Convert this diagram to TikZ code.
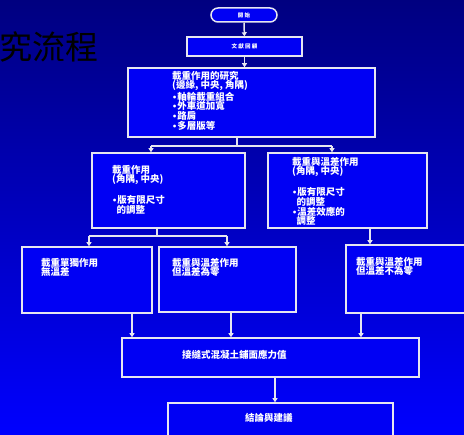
\documentclass[tikz,border=0pt]{standalone}
\usepackage{fontspec}
\newfontfamily\cjk{Noto Sans CJK TC}
\newfontfamily\dv{DejaVu Sans}
\newcommand\mybul{{\dv\fontsize{8}{8}\selectfont •}}
\newcommand\myind{\hspace*{4.5pt}}
\usetikzlibrary{arrows.meta}
\definecolor{bgtop}{HTML}{000080}
\definecolor{bgbot}{HTML}{0000FF}
\definecolor{boxfill}{HTML}{0000F4}
\definecolor{edge}{HTML}{E6E6F0}
\begin{document}
\begin{tikzpicture}[x=1pt,y=-1pt,
  box/.style={draw=edge, line width=1.5pt, fill=boxfill, inner sep=0pt},
  txt/.style={text=white, font=\cjk\bfseries\fontsize{9.5}{9.6}\selectfont, align=left, anchor=north west, inner sep=0pt},
  tiny/.style={text=white, font=\cjk\bfseries\fontsize{5.5}{5.5}\selectfont, inner sep=0pt},
  link/.style={draw=edge, line width=1.5pt},
  arr/.style={link, -{Triangle[width=5pt,length=4pt]}}]
\useasboundingbox (0,0) rectangle (464,435);
\clip (0,0) rectangle (464,435);
\shade[top color=bgtop, bottom color=bgbot] (0,0) rectangle (464,435);
% title
\node[anchor=west, inner sep=0pt, font=\cjk\fontsize{33}{33}\selectfont, text=black] (title) at (-1,47) {究流程};
% boxes
\node[box, minimum width=66pt, minimum height=14pt, rounded corners=7pt] (start) at (244,15) {};
\node[tiny] (starttxt) at (start) {開 始};
\node[box, minimum width=115pt, minimum height=19pt] (lit) at (244.5,46.5) {};
\node[tiny] (littxt) at (lit) {文 獻 回 顧};
\node[box, minimum width=247pt, minimum height=69pt] (big) at (251.5,102.5) {};
\node[txt] (bigtxt) at (172,71) {載重作用的研究\\(邊緣, 中央, 角隅)\\\mybul 軸輪載重組合\\\mybul 外車道加寬\\\mybul 路肩\\\mybul 多層版等};
\node[box, minimum width=153pt, minimum height=75pt] (L) at (168.5,190.5) {};
\node[txt] (Ltxt) at (112,165) {載重作用\\(角隅, 中央)\\[9.6pt]\mybul 版有限尺寸\\\myind 的調整};
\node[box, minimum width=159pt, minimum height=75pt] (R) at (347.5,190.5) {};
\node[txt] (Rtxt) at (292,157) {載重與溫差作用\\(角隅, 中央)\\[9.6pt]\mybul 版有限尺寸\\\myind 的調整\\\mybul 溫差效應的\\\myind 調整};
\node[box, minimum width=130pt, minimum height=66pt] (A) at (87,280) {};
\node[txt] (Atxt) at (41,258) {載重單獨作用\\無溫差};
\node[box, minimum width=137pt, minimum height=65pt] (B) at (227.5,279.5) {};
\node[txt] (Btxt) at (172,258) {載重與溫差作用\\但溫差為零};
\node[box, minimum width=126pt, minimum height=68pt] (C) at (409,279) {};
\node[txt] (Ctxt) at (356,257) {載重與溫差作用\\但溫差不為零};
\node[box, minimum width=297pt, minimum height=39pt] (S) at (270.5,357.5) {};
\node[txt, anchor=west] (Stxt) at (182,355) {接縫式混凝土鋪面應力值};
\node[box, minimum width=225pt, minimum height=38pt] (D) at (280.5,422) {};
\node[txt, anchor=west] (Dtxt) at (245,418) {結論與建議};
% connectors
\draw[arr] (start) -- (lit);
\draw[arr] (lit.south) -- (lit.south |- big.north);
\coordinate (j0) at (237,146);
\coordinate (b1) at (151,146);
\coordinate (b2) at (332,146);
\draw[link] (big.south -| j0) -- (j0);
\draw[link] (b1) -- (b2);
\draw[arr] (b1) -- (L.north -| b1);
\draw[arr] (b2) -- (R.north -| b2);
\coordinate (j1) at (157,236);
\coordinate (c1) at (89,236);
\coordinate (c2) at (227,236);
\draw[link] (L.south -| j1) -- (j1);
\draw[link] (c1) -- (c2);
\draw[arr] (c1) -- (A.north -| c1);
\draw[arr] (c2) -- (B.north -| c2);
\coordinate (k) at (370,0);
\draw[arr] (R.south -| k) -- (C.north -| k);
\coordinate (k1) at (132,0);
\coordinate (k2) at (231,0);
\coordinate (k3) at (361,0);
\draw[arr] (A.south -| k1) -- (S.north -| k1);
\draw[arr] (B.south -| k2) -- (S.north -| k2);
\draw[arr] (C.south -| k3) -- (S.north -| k3);
\coordinate (k4) at (275,0);
\draw[arr] (S.south -| k4) -- (D.north -| k4);
\end{tikzpicture}
\end{document}
